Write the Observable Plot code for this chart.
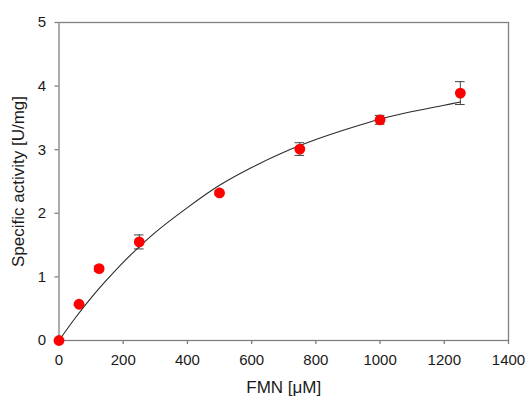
<!DOCTYPE html>
<html>
<head>
<meta charset="utf-8">
<script src="https://cdn.jsdelivr.net/npm/d3@7"></script>
<script src="https://cdn.jsdelivr.net/npm/@observablehq/plot@0.6"></script>
<style>
  html, body { margin: 0; padding: 0; background: #fff; }
  #chart svg { display: block; }
</style>
</head>
<body>
<div id="chart"></div>
<script>
// Measured points: FMN concentration (µM), specific activity (U/mg), error (U/mg)
const fmn      = [0, 62.5, 125, 250, 500, 750, 1000, 1250];
const activity = [0, 0.57, 1.13, 1.55, 2.32, 3.01, 3.47, 3.89];
const errors   = [0, 0.02, 0.04, 0.11, 0.03, 0.10, 0.07, 0.18];

// Fitted curve
const fitX = [0, 50, 100, 150, 200, 300, 400, 500, 600, 700, 800, 900, 1000, 1100, 1200, 1250];
const fitY = [0, 0.35, 0.67, 0.96, 1.23, 1.70, 2.09, 2.44, 2.72, 2.96, 3.16, 3.33, 3.48, 3.60, 3.70, 3.75];

const xTicks = [0, 200, 400, 600, 800, 1000, 1200, 1400];
const yTicks = [0, 1, 2, 3, 4, 5];
const xTitle = "FMN [μM]";
const yTitle = "Specific activity [U/mg]";

const points = fmn.map((x, i) => ({x, y: activity[i], e: errors[i]}));
const fit = fitX.map((x, i) => ({x, y: fitY[i]}));
const bars = points.filter(d => d.e > 0);
const capHalf = 15;

const axisColor = "#808080";
const textColor = "#1a1a1a";

const chart = Plot.plot({
  width: 526,
  height: 397,
  marginLeft: 58.5,
  marginRight: 18,
  marginTop: 22,
  marginBottom: 57,
  style: {fontFamily: "'Liberation Sans', Arial, sans-serif", fontSize: "15px", color: textColor, background: "#fff"},
  x: {domain: [0, 1400], ticks: xTicks, label: null},
  y: {domain: [0, 5], ticks: yTicks, label: null},
  marks: [
    Plot.frame({stroke: axisColor, strokeWidth: 1.3}),
    Plot.axisX({ticks: xTicks, tickFormat: d => String(d), tickSize: 4, tickPadding: 10, stroke: axisColor, strokeWidth: 1.3, fill: textColor, fontSize: 15, label: null}),
    Plot.axisY({ticks: yTicks, tickFormat: d => String(d), tickSize: 4, tickPadding: 9, stroke: axisColor, strokeWidth: 1.3, fill: textColor, fontSize: 15, label: null}),
    Plot.ruleX(bars, {x: "x", y1: d => d.y - d.e, y2: d => d.y + d.e, stroke: "#444", strokeWidth: 1}),
    Plot.ruleY(bars, {y: d => d.y - d.e, x1: d => d.x - capHalf, x2: d => d.x + capHalf, stroke: "#444", strokeWidth: 1}),
    Plot.ruleY(bars, {y: d => d.y + d.e, x1: d => d.x - capHalf, x2: d => d.x + capHalf, stroke: "#444", strokeWidth: 1}),
    Plot.line(fit, {x: "x", y: "y", stroke: "#2a2a2a", strokeWidth: 1.1, curve: "catmull-rom"}),
    Plot.dot(points, {x: "x", y: "y", r: 5.4, fill: "#ff0000", stroke: "none"}),
    Plot.text([xTitle], {text: d => d, frameAnchor: "bottom", textAnchor: "middle", lineAnchor: "middle", dy: 47, fontSize: 17, fill: textColor}),
    Plot.text([yTitle], {text: d => d, frameAnchor: "left", textAnchor: "middle", lineAnchor: "middle", rotate: -90, dx: -40, fontSize: 17, fill: textColor})
  ]
});
document.getElementById("chart").appendChild(chart);
</script>
</body>
</html>
